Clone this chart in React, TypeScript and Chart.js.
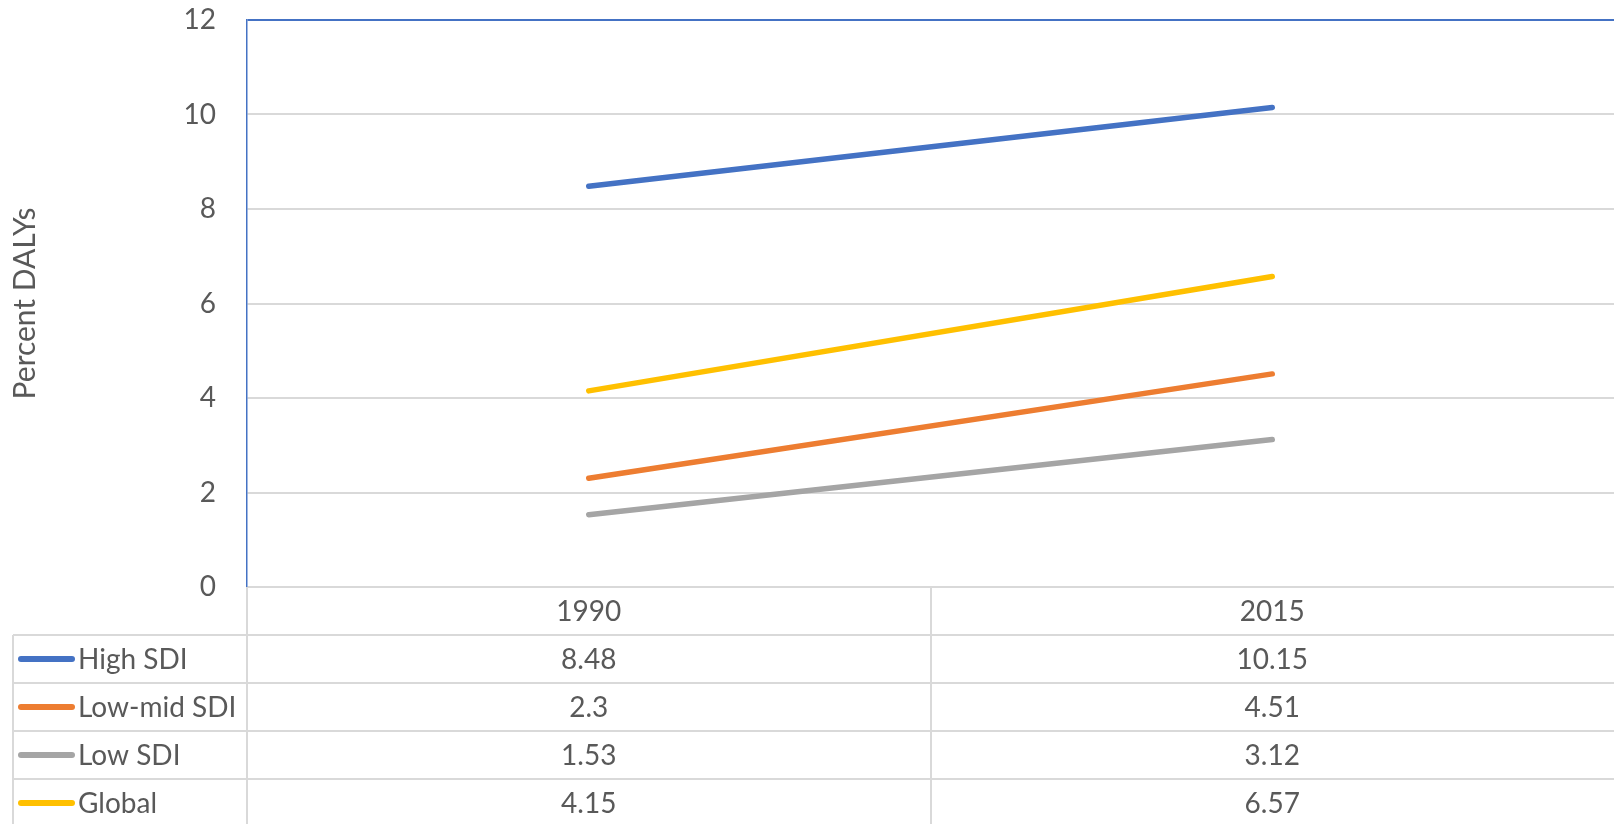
import React, { useEffect, useRef } from 'react';
import { Chart, registerables } from 'chart.js';

Chart.register(...registerables);

const categories = ['1990', '2015'];
const seriesNames = ['High SDI', 'Low-mid SDI', 'Low SDI', 'Global'];
const highSDI = [8.48, 10.15];
const lowMidSDI = [2.3, 4.51];
const lowSDI = [1.53, 3.12];
const globalVals = [4.15, 6.57];
const seriesColors = ['#4472C4', '#ED7D31', '#A5A5A5', '#FFC000'];
const yMin = 0;
const yMax = 12;
const yStep = 2;
const yTitle = 'Percent DALYs';

const W = 1614;
const H = 824;
const FONT = 'Lato, "Open Sans", sans-serif';
const TEXT = '#595959';
const GRID = '#D9D9D9';
const ROW_H = 48;
const TABLE_LEFT = 13;

const tablePlugin = {
  id: 'dataTable',
  afterDraw(chart: any) {
    const ctx = chart.ctx;
    const xs = chart.scales.x;
    const area = chart.chartArea;
    const c0 = xs.getPixelForValue(0);
    const c1 = xs.getPixelForValue(1);
    const half = (c1 - c0) / 2;
    const top = area.bottom;
    const headerBottom = top + ROW_H;
    const allSeries = chart.data.datasets;
    ctx.save();
    ctx.strokeStyle = GRID;
    ctx.lineWidth = 2;
    const vlines: number[] = [area.left];
    for (let i = 0; i < categories.length - 1; i++) {
      vlines.push(xs.getPixelForValue(i) + half);
    }
    vlines.forEach((vx) => {
      ctx.beginPath();
      ctx.moveTo(Math.round(vx), top);
      ctx.lineTo(Math.round(vx), H + 5);
      ctx.stroke();
    });
    ctx.beginPath();
    ctx.moveTo(TABLE_LEFT, headerBottom);
    ctx.lineTo(TABLE_LEFT, H + 5);
    ctx.stroke();
    for (let r = 0; r <= allSeries.length; r++) {
      const y = headerBottom + r * ROW_H;
      ctx.beginPath();
      ctx.moveTo(TABLE_LEFT, y);
      ctx.lineTo(W + 5, y);
      ctx.stroke();
    }
    ctx.fillStyle = TEXT;
    ctx.font = '28px ' + FONT;
    ctx.textAlign = 'center';
    ctx.textBaseline = 'middle';
    categories.forEach((cat, i) => {
      ctx.fillText(cat, xs.getPixelForValue(i), top + ROW_H / 2 + 1);
    });
    allSeries.forEach((ds: any, r: number) => {
      const cy = headerBottom + r * ROW_H + ROW_H / 2;
      ctx.strokeStyle = ds.borderColor;
      ctx.lineWidth = 6;
      ctx.lineCap = 'round';
      ctx.beginPath();
      ctx.moveTo(21, cy);
      ctx.lineTo(72, cy);
      ctx.stroke();
      ctx.fillStyle = TEXT;
      ctx.textAlign = 'left';
      ctx.fillText(ds.label, 78, cy + 1);
      ctx.textAlign = 'center';
      ds.data.forEach((v: number, i: number) => {
        ctx.fillText(String(v), xs.getPixelForValue(i), cy + 1);
      });
    });
    ctx.restore();
  },
};

export default function App() {
  const ref = useRef<HTMLCanvasElement | null>(null);
  useEffect(() => {
    document.body.style.margin = '0';
    const canvas = ref.current;
    if (!canvas) return;
    const seriesData = [highSDI, lowMidSDI, lowSDI, globalVals];
    const chart = new Chart(canvas, {
      type: 'line',
      data: {
        labels: categories,
        datasets: seriesNames.map((name, i) => ({
          label: name,
          data: seriesData[i],
          borderColor: seriesColors[i],
          backgroundColor: seriesColors[i],
          borderWidth: 5.5,
          borderCapStyle: 'round',
          pointRadius: 0,
          tension: 0,
          fill: false,
        })),
      },
      options: {
        responsive: false,
        animation: false,
        devicePixelRatio: 1,
        layout: { padding: { left: 0, right: 0, top: 20, bottom: H - 587 } },
        plugins: {
          legend: { display: false },
          tooltip: { enabled: false },
          title: { display: false },
        },
        scales: {
          x: {
            type: 'category',
            display: false,
            offset: true,
          },
          y: {
            min: yMin,
            max: yMax,
            afterFit: (scale: any) => {
              scale.width = 247;
              scale.paddingTop = 0;
              scale.paddingBottom = 0;
            },
            ticks: {
              stepSize: yStep,
              color: TEXT,
              font: { family: FONT, size: 28 },
              padding: 31,
            },
            grid: {
              drawTicks: false,
              lineWidth: 2,
              color: (c: any) => (c.tick && c.tick.value === yMax ? '#4472C4' : GRID),
            },
            border: { display: true, color: '#4472C4', width: 1.5 },
            title: {
              display: true,
              text: yTitle,
              color: TEXT,
              font: { family: FONT, size: 30 },
              padding: { top: 7, bottom: 0 },
            },
          },
        },
      },
      plugins: [tablePlugin],
    } as any);
    return () => chart.destroy();
  }, []);
  return (
    <div style={{ position: 'absolute', left: 0, top: 0, width: W, height: H }}>
      <canvas ref={ref} width={W} height={H} style={{ width: W, height: H, display: 'block' }} />
    </div>
  );
}
